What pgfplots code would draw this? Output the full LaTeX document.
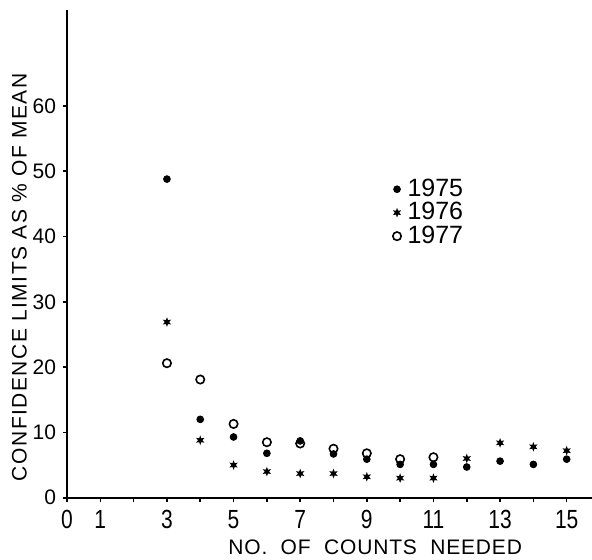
\documentclass[border=0pt]{standalone}
\usepackage{fontspec}
\setmainfont{Liberation Sans}
\usepackage{pgfplots}
\pgfplotsset{compat=1.18}

\pgfdeclareplotmark{sstar}{%
  \pgfpathmoveto{\pgfpointpolar{90}{2.4pt}}%
  \pgfpathlineto{\pgfpointpolar{120}{1.1pt}}%
  \pgfpathlineto{\pgfpointpolar{150}{2.4pt}}%
  \pgfpathlineto{\pgfpointpolar{180}{1.1pt}}%
  \pgfpathlineto{\pgfpointpolar{210}{2.4pt}}%
  \pgfpathlineto{\pgfpointpolar{240}{1.1pt}}%
  \pgfpathlineto{\pgfpointpolar{270}{2.4pt}}%
  \pgfpathlineto{\pgfpointpolar{300}{1.1pt}}%
  \pgfpathlineto{\pgfpointpolar{330}{2.4pt}}%
  \pgfpathlineto{\pgfpointpolar{0}{1.1pt}}%
  \pgfpathlineto{\pgfpointpolar{30}{2.4pt}}%
  \pgfpathlineto{\pgfpointpolar{60}{1.1pt}}%
  \pgfpathclose\pgfusepathqfill}

\pgfplotstableread{
x y
3 48.8
4 12.0
5 9.3
6 6.8
7 8.7
8 6.7
9 5.9
10 5.1
11 5.1
12 4.7
13 5.6
14 5.1
15 5.9
}\dataA
\pgfplotstableread{
x y
3 26.9
4 8.8
5 5.0
6 4.0
7 3.7
8 3.7
9 3.2
10 3.0
11 3.0
12 6.0
13 8.4
14 7.8
15 7.2
}\dataB
\pgfplotstableread{
x y
3 20.6
4 18.1
5 11.3
6 8.5
7 8.3
8 7.5
9 6.8
10 5.9
11 6.2
}\dataC

\begin{document}
\begin{tikzpicture}[font=\fontsize{10.5}{12.6}\selectfont]
\begin{axis}[name=ax, scale only axis, width=262.5pt, height=243.85pt,
  xmin=0, xmax=15.76, ymin=0, ymax=74.7,
  axis x line=bottom, axis y line=left,
  axis line style={-, line width=0.9pt},
  xtick={0,1,3,5,7,9,11,13,15},
  minor xtick={2,4,6,8,10,12,14},
  ytick={0,10,20,30,40,50,60},
  tick align=outside,
  major tick length=2pt, minor tick length=2pt,
  tick style={line width=0.8pt, black},
  /pgf/number format/assume math mode=true,
  xticklabel style={yscale=1.25},
  xlabel={\addfontfeature{LetterSpace=4}NO.\ \ OF\ \ COUNTS\ \ NEEDED},
  ylabel={\addfontfeature{LetterSpace=7}CONFIDENCE LIMITS AS \% OF MEAN},
  xlabel style={at={(axis description cs:0.587,0)}, anchor=center, yshift=-25pt},
  ylabel style={at={(ticklabel cs:0.452)}},
  ylabel shift=-4pt,
  mylegend/.style={legend image code/.code={\draw[##1] plot coordinates {(0.1cm,0cm)}; \path (0cm,0cm) (0.2cm,0cm);}},
  legend style={at={(axis cs:9.52,50.1)}, anchor=north west, draw=none, fill=none, row sep=-2.5pt,
    font=\fontsize{12.5}{14}\selectfont},
  legend cell align=left,
]
\addplot[only marks, mark=*, mark size=1.7pt, black, mylegend] table {\dataA};
\addlegendentry{1975}
\addplot[only marks, mark=sstar, black, mylegend] table {\dataB};
\addlegendentry{1976}
\addplot[only marks, mark=o, mark size=2.1pt, black, line width=0.8pt, mylegend] table {\dataC};
\addlegendentry{1977}
\end{axis}
\pgfresetboundingbox
\path[use as bounding box] ([xshift=-33.5pt,yshift=-31.15pt]ax.south west) rectangle ([yshift=5pt]ax.north east);
\end{tikzpicture}
\end{document}
